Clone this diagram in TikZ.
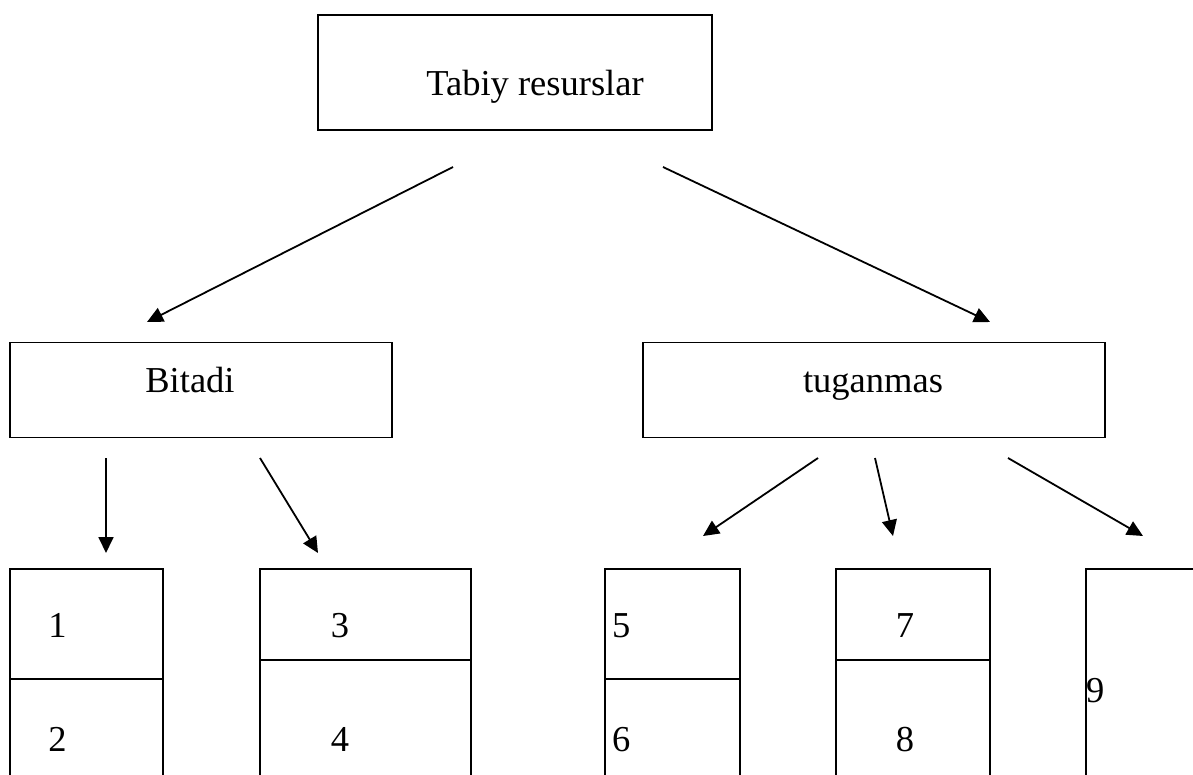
\documentclass[tikz,border=0pt]{standalone}
\usepackage{fontspec}
\setmainfont{Liberation Serif}
\usetikzlibrary{arrows.meta}
\begin{document}
\begin{tikzpicture}[x=1pt,y=-1pt,
  box/.style={draw, line width=1.8pt, inner sep=0pt},
  lbl/.style={inner sep=0pt, anchor=base, font=\fontsize{36.5}{40}\selectfont},
  arr/.style={line width=1.8pt, -{Triangle[length=16pt,width=15pt]}},
  cell/.style={line width=1.8pt}]
\useasboundingbox (0,0) rectangle (1193,774);
% top box
\node[box, minimum width=394pt, minimum height=115pt] (root) at (515,72.5) {};
\node[lbl] (roottxt) at (535,95) {Tabiy resurslar};
% second level
\node[box, minimum width=382pt, minimum height=95pt] (bitadi) at (201,390) {};
\node[lbl] (bitaditxt) at (190,392) {Bitadi};
\node[box, minimum width=462pt, minimum height=95pt] (tugan) at (874,390) {};
\node[lbl] (tugantxt) at (873,392) {tuganmas};
% arrows
\coordinate (a1s) at (453,167); \coordinate (a1e) at (147,322);
\coordinate (a2s) at (663,167); \coordinate (a2e) at (990,322);
\coordinate (b1s) at (106,458); \coordinate (b1e) at (106,553);
\coordinate (b2s) at (260,458); \coordinate (b2e) at (318,553);
\coordinate (c1s) at (818,458); \coordinate (c1e) at (703,536);
\coordinate (c2s) at (875,458); \coordinate (c2e) at (893,536);
\coordinate (c3s) at (1008,458); \coordinate (c3e) at (1143,536);
\draw[arr] (a1s) -- (a1e);
\draw[arr] (a2s) -- (a2e);
\draw[arr] (b1s) -- (b1e);
\draw[arr] (b2s) -- (b2e);
\draw[arr] (c1s) -- (c1e);
\draw[arr] (c2s) -- (c2e);
\draw[arr] (c3s) -- (c3e);
% bottom cells (open at the bottom)
\draw[cell] (10,790) -- (10,569) -- (163,569) -- (163,790);
\draw[cell] (10,679) -- (163,679);
\draw[cell] (260,790) -- (260,569) -- (471,569) -- (471,790);
\draw[cell] (260,660) -- (471,660);
\draw[cell] (605,790) -- (605,569) -- (740,569) -- (740,790);
\draw[cell] (605,679) -- (740,679);
\draw[cell] (836,790) -- (836,569) -- (990,569) -- (990,790);
\draw[cell] (836,660) -- (990,660);
\draw[cell] (1086,790) -- (1086,569) -- (1200,569);
% digits
\node[lbl] (n1) at (57.5,637) {1};
\node[lbl] (n2) at (57.5,751) {2};
\node[lbl] (n3) at (340,637) {3};
\node[lbl] (n4) at (340,751) {4};
\node[lbl, anchor=base west] (n5) at (612,637) {5};
\node[lbl, anchor=base west] (n6) at (612,751) {6};
\node[lbl] (n7) at (905,637) {7};
\node[lbl] (n8) at (905,751) {8};
\node[lbl, anchor=base west] (n9) at (1086,702) {9};
\end{tikzpicture}
\end{document}
